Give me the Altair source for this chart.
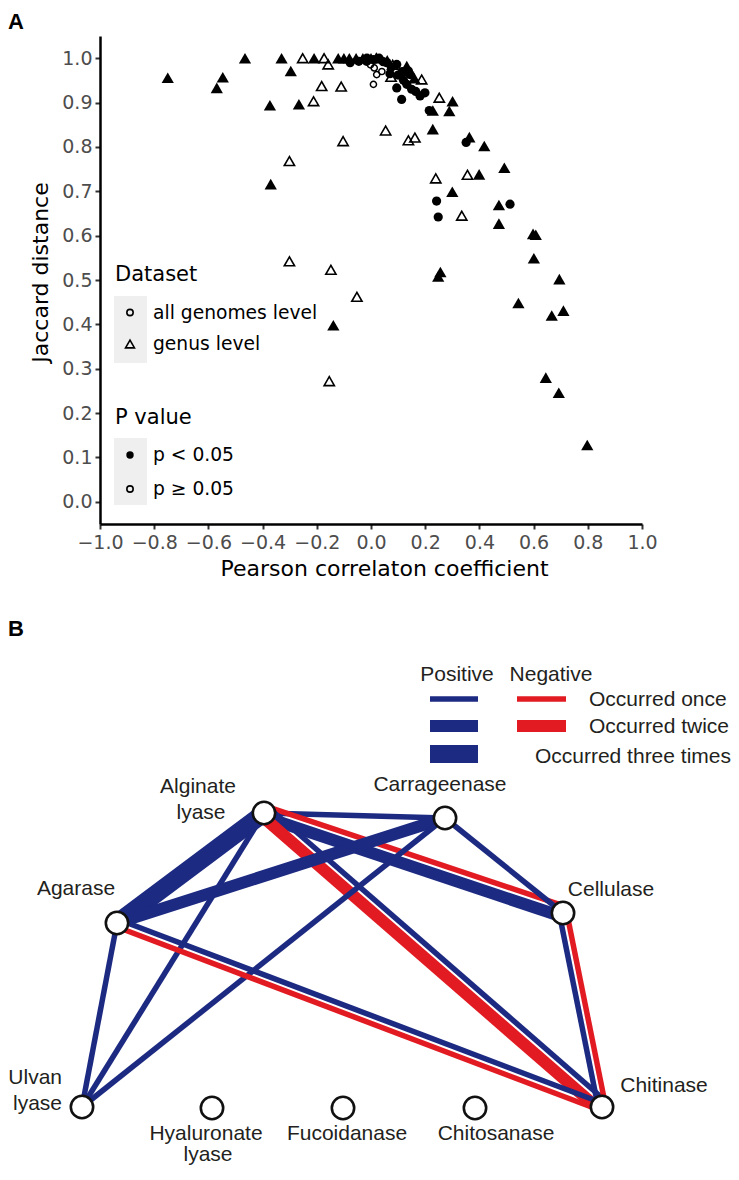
import math
import altair as alt
import pandas as pd

# ------------------------------------------------------------------
# Panel A data: Pearson r vs Jaccard distance
# ------------------------------------------------------------------
genus_sig_r = [-0.750, -0.569, -0.547, -0.465, -0.330, -0.296, -0.373, -0.266, -0.370,
               -0.210, -0.121, -0.100, -0.080, -0.055, -0.030, 0.000, -0.139, 0.060,
               0.132, 0.160, 0.228, 0.301, 0.289, 0.228, 0.363, 0.418, 0.492, 0.399,
               0.300, 0.472, 0.472, 0.608, 0.598, 0.601, 0.695, 0.248, 0.256, 0.544,
               0.667, 0.710, 0.645, 0.693, 0.798, 0.132]
genus_sig_j = [0.956, 0.933, 0.957, 1.000, 1.000, 0.971, 0.894, 0.896, 0.716,
               1.000, 1.000, 1.000, 1.000, 1.000, 1.000, 1.000, 0.398, 0.995,
               0.971, 0.955, 0.882, 0.903, 0.881, 0.840, 0.822, 0.802, 0.753, 0.738,
               0.699, 0.669, 0.627, 0.602, 0.604, 0.549, 0.502, 0.508, 0.518, 0.448,
               0.420, 0.431, 0.280, 0.246, 0.128, 0.982]

genus_ns_r = [-0.252, -0.173, -0.158, -0.182, -0.110, -0.212, -0.103, -0.301, -0.301,
              -0.148, -0.052, -0.154, 0.074, 0.187, 0.252, 0.054, 0.138, 0.162,
              0.239, 0.356, 0.335, 0.020, 0.080]
genus_ns_j = [1.000, 1.000, 0.986, 0.937, 0.936, 0.903, 0.813, 0.768, 0.542,
              0.523, 0.462, 0.272, 0.958, 0.952, 0.911, 0.837, 0.815, 0.821,
              0.729, 0.737, 0.645, 1.000, 0.985]

all_sig_r = [-0.077, -0.045, -0.016, 0.009, 0.045, 0.058, 0.075, 0.095, 0.070, 0.100,
             0.115, 0.138, 0.144, 0.095, 0.113, 0.132, 0.150, 0.120, 0.181, 0.199,
             0.165, 0.215, 0.351, 0.242, 0.248, 0.513, -0.015, 0.030]
all_sig_j = [0.990, 0.993, 0.993, 0.997, 0.992, 0.990, 0.980, 0.986, 0.965, 0.962,
             0.970, 0.971, 0.963, 0.933, 0.907, 0.941, 0.930, 0.950, 0.915, 0.922,
             0.925, 0.882, 0.810, 0.678, 0.642, 0.671, 1.000, 1.000]

all_ns_r = [0.009, 0.021, 0.027, 0.012, -0.002, 0.040]
all_ns_j = [0.941, 0.963, 0.997, 0.978, 0.985, 0.970]

x_ticks = [-1.0, -0.8, -0.6, -0.4, -0.2, 0.0, 0.2, 0.4, 0.6, 0.8, 1.0]
y_ticks = [0.0, 0.1, 0.2, 0.3, 0.4, 0.5, 0.6, 0.7, 0.8, 0.9, 1.0]

dataset_labels = ["all genomes level", "genus level"]
p_labels = ["p < 0.05", "p \u2265 0.05"]

rows = []
for rr, jj in zip(genus_sig_r, genus_sig_j):
    rows.append(dict(r=rr, j=jj, dataset="genus level", p="p < 0.05"))
for rr, jj in zip(genus_ns_r, genus_ns_j):
    rows.append(dict(r=rr, j=jj, dataset="genus level", p="p \u2265 0.05"))
for rr, jj in zip(all_sig_r, all_sig_j):
    rows.append(dict(r=rr, j=jj, dataset="all genomes level", p="p < 0.05"))
for rr, jj in zip(all_ns_r, all_ns_j):
    rows.append(dict(r=rr, j=jj, dataset="all genomes level", p="p \u2265 0.05"))
dfA = pd.DataFrame(rows)

FA = "DejaVu Sans"
FB = "Liberation Sans"
one = pd.DataFrame({"k": [0]})

WA, HA = 542, 488

x_enc = alt.X("r:Q",
              scale=alt.Scale(domain=[-1.0, 1.0], nice=False, zero=False),
              axis=alt.Axis(values=x_ticks, format=".1f", grid=False,
                            labelFont=FA, labelFontSize=19, labelColor="#4d4d4d",
                            labelPadding=4, labelFlush=False, labelOverlap=False,
                            tickColor="#333333", tickWidth=2, tickSize=5,
                            domainColor="black", domainWidth=2.5,
                            title="Pearson correlaton coefficient",
                            titleFont=FA, titleFontSize=22, titleFontWeight="normal",
                            titleColor="black", titlePadding=6,
                            titleX=284, titleAlign="center"))
y_enc = alt.Y("j:Q",
              scale=alt.Scale(domain=[-0.05, 1.05], nice=False, zero=False),
              axis=alt.Axis(values=y_ticks, format=".1f", grid=False,
                            labelFont=FA, labelFontSize=19, labelColor="#4d4d4d",
                            labelPadding=3, labelFlush=False, labelOverlap=False,
                            tickColor="#333333", tickWidth=2, tickSize=5,
                            domainColor="black", domainWidth=2.5,
                            title="Jaccard distance",
                            titleFont=FA, titleFontSize=22, titleFontWeight="normal",
                            titleColor="black", titlePadding=9, titleY=236))


def pts(dataset, p, **mk):
    return (alt.Chart(dfA)
            .transform_filter((alt.datum.dataset == dataset) & (alt.datum.p == p))
            .mark_point(opacity=1, **mk)
            .encode(x=x_enc, y=y_enc))


def txt(s, x, y, size, font=FA, align="left", baseline="middle", weight="normal"):
    return (alt.Chart(one)
            .mark_text(text=s, align=align, baseline=baseline, font=font,
                       fontSize=size, fontWeight=weight, color="black")
            .encode(x=alt.value(x), y=alt.value(y)))


def box(x1, x2, y1, y2):
    return (alt.Chart(one).mark_rect(color="#efefef")
            .encode(x=alt.value(x1), x2=alt.value(x2), y=alt.value(y1), y2=alt.value(y2)))


def key(shape, filled, x, y, size):
    if filled:
        m = alt.Chart(one).mark_point(shape=shape, filled=True, color="black", size=size, opacity=1)
    else:
        m = alt.Chart(one).mark_point(shape=shape, filled=False, color="black",
                                      strokeWidth=1.6, size=size, opacity=1)
    return m.encode(x=alt.value(x), y=alt.value(y))


layersA = [
    pts("genus level", "p \u2265 0.05", shape="triangle-up", filled=False, color="black",
        strokeWidth=1.6, size=105),
    pts("all genomes level", "p \u2265 0.05", shape="circle", filled=False, color="black",
        strokeWidth=1.5, size=38),
    pts("genus level", "p < 0.05", shape="triangle-up", filled=True, color="black", size=150),
    pts("all genomes level", "p < 0.05", shape="circle", filled=True, color="black", size=85),
    # legend
    txt("Dataset", 15, 245, 21, baseline="alphabetic"),
    box(14, 47, 260, 327),
    key("circle", False, 30, 276.5, 40),
    key("triangle-up", False, 30, 308, 80),
    txt(dataset_labels[0], 53, 276.5, 18.7),
    txt(dataset_labels[1], 53, 308, 18.7),
    txt("P value", 15, 388, 21, baseline="alphabetic"),
    box(14, 47, 402, 469),
    key("circle", True, 30, 419, 55),
    key("circle", False, 30, 453, 40),
    txt(p_labels[0], 53, 419, 18.7),
    txt(p_labels[1], 53, 453, 18.7),
    txt("A", -92, -24, 22, font=FB, baseline="top", weight="bold"),
]
chartA = alt.layer(*layersA).properties(width=WA, height=HA)

# ------------------------------------------------------------------
# Panel B data: co-occurrence network of enzymes
# ------------------------------------------------------------------
node_names = ["Alginate lyase", "Carrageenase", "Agarase", "Cellulase", "Ulvan lyase",
              "Hyaluronate lyase", "Fucoidanase", "Chitosanase", "Chitinase"]
node_x = [264, 445, 117, 563, 82, 212, 343, 475, 602]
node_y = [813, 818, 923, 913, 1107, 1108, 1108, 1108, 1107]

edge_src = ["Alginate lyase", "Alginate lyase", "Alginate lyase", "Alginate lyase",
            "Alginate lyase", "Carrageenase", "Carrageenase", "Carrageenase",
            "Agarase", "Agarase", "Cellulase"]
edge_dst = ["Carrageenase", "Agarase", "Ulvan lyase", "Cellulase", "Chitinase",
            "Agarase", "Ulvan lyase", "Cellulase", "Ulvan lyase", "Chitinase", "Chitinase"]
edge_pos = [1, 3, 1, 2, 1, 2, 1, 1, 1, 1, 1]   # times occurred as positive
edge_neg = [0, 0, 0, 1, 2, 0, 0, 0, 0, 1, 1]   # times occurred as negative
edge_side = [0, 0, 0, -1, 1, 0, 0, 0, 0, 1, -1]  # side of the negative line

line_widths = [5.5, 12.0, 18.0]   # stroke width for once / twice / three times
GAP = 2.0
BLUE = "#1c2a82"
RED = "#e21b23"

pos = {n: (x, y) for n, x, y in zip(node_names, node_x, node_y)}
erows = []
for a, b, npos, nneg, side in zip(edge_src, edge_dst, edge_pos, edge_neg, edge_side):
    ax, ay = pos[a]
    bx, by = pos[b]
    dx, dy = bx - ax, by - ay
    L = math.hypot(dx, dy)
    nx, ny = -dy / L, dx / L
    if npos and nneg:
        wp, wn = line_widths[npos - 1], line_widths[nneg - 1]
        off_n = side * (wp + GAP) / 2
        off_p = -side * (wn + GAP) / 2
    else:
        off_p = off_n = 0.0
    if npos:
        erows.append(dict(x=ax + nx * off_p, y=ay + ny * off_p, x2=bx + nx * off_p,
                          y2=by + ny * off_p, sign="Positive", w=line_widths[npos - 1]))
    if nneg:
        erows.append(dict(x=ax + nx * off_n, y=ay + ny * off_n, x2=bx + nx * off_n,
                          y2=by + ny * off_n, sign="Negative", w=line_widths[nneg - 1]))
dfE = pd.DataFrame(erows)

# legend of panel B
leg_sign = ["Positive", "Positive", "Positive", "Negative", "Negative"]
leg_count = [1, 2, 3, 1, 2]
leg_x1 = [430, 430, 430, 517, 517]
leg_x2 = [478, 478, 478, 566, 566]
leg_y = [699, 726, 754, 699, 726]
dfL = pd.DataFrame(dict(x=leg_x1, x2=leg_x2, y=leg_y, y2=leg_y, sign=leg_sign,
                        w=[line_widths[c - 1] for c in leg_count]))

dfN = pd.DataFrame(dict(name=node_names, x=node_x, y=node_y))

# labels (text, x, y, align)
lab_text = ["Alginate", "lyase", "Carrageenase", "Agarase", "Cellulase", "Ulvan", "lyase",
            "Chitinase", "Hyaluronate", "lyase", "Fucoidanase", "Chitosanase",
            "Positive", "Negative", "Occurred once", "Occurred twice", "Occurred three times"]
lab_x = [198, 201, 440, 76, 611, 62, 62, 664, 206, 208, 347, 496, 457, 551, 589, 589, 731]
lab_y = [787, 813, 785, 889, 890, 1078, 1104, 1086, 1134, 1155, 1134, 1134,
         675, 675, 700, 727, 757]
lab_align = ["center", "center", "center", "center", "center", "right", "right",
             "center", "center", "center", "center", "center",
             "center", "center", "left", "left", "right"]
dfT = pd.DataFrame(dict(text=lab_text, x=lab_x, y=lab_y, align=lab_align))

WB, HB = 620, 530
Y0 = 619
xB = alt.Scale(domain=[100, 100 + WB], nice=False, zero=False)
yB = alt.Scale(domain=[Y0, Y0 + HB], nice=False, zero=False, reverse=True)
col = alt.Color("sign:N", scale=alt.Scale(domain=["Positive", "Negative"], range=[BLUE, RED]),
                legend=None)


def rules(df):
    return (alt.Chart(df).mark_rule(strokeCap="butt", opacity=1)
            .encode(x=alt.X("x:Q", scale=xB, axis=None), y=alt.Y("y:Q", scale=yB, axis=None),
                    x2="x2:Q", y2="y2:Q", color=col,
                    strokeWidth=alt.StrokeWidth("w:Q", scale=None)))


def labels(align):
    return (alt.Chart(dfT).transform_filter(alt.datum.align == align)
            .mark_text(align=align, baseline="middle", font=FB, fontSize=21, color="#231f20")
            .encode(x=alt.X("x:Q", scale=xB, axis=None), y=alt.Y("y:Q", scale=yB, axis=None),
                    text="text:N"))


nodes = (alt.Chart(dfN)
         .mark_point(shape="circle", filled=True, fill="white", stroke="#111111",
                     strokeWidth=2.6, size=500, opacity=1)
         .encode(x=alt.X("x:Q", scale=xB, axis=None), y=alt.Y("y:Q", scale=yB, axis=None)))

chartB = alt.layer(
    rules(dfE),
    rules(dfL),
    nodes,
    labels("center"),
    labels("left"),
    labels("right"),
    txt("B", -92, 0, 22, font=FB, baseline="top", weight="bold"),
).properties(width=WB, height=HB)

chart = (alt.vconcat(chartA, chartB, spacing=39)
         .properties(padding={"left": 0, "top": 3, "right": 0, "bottom": 0})
         .configure_view(stroke=None))

chart.save("out.html", embed_options={"renderer": "svg", "actions": False})
